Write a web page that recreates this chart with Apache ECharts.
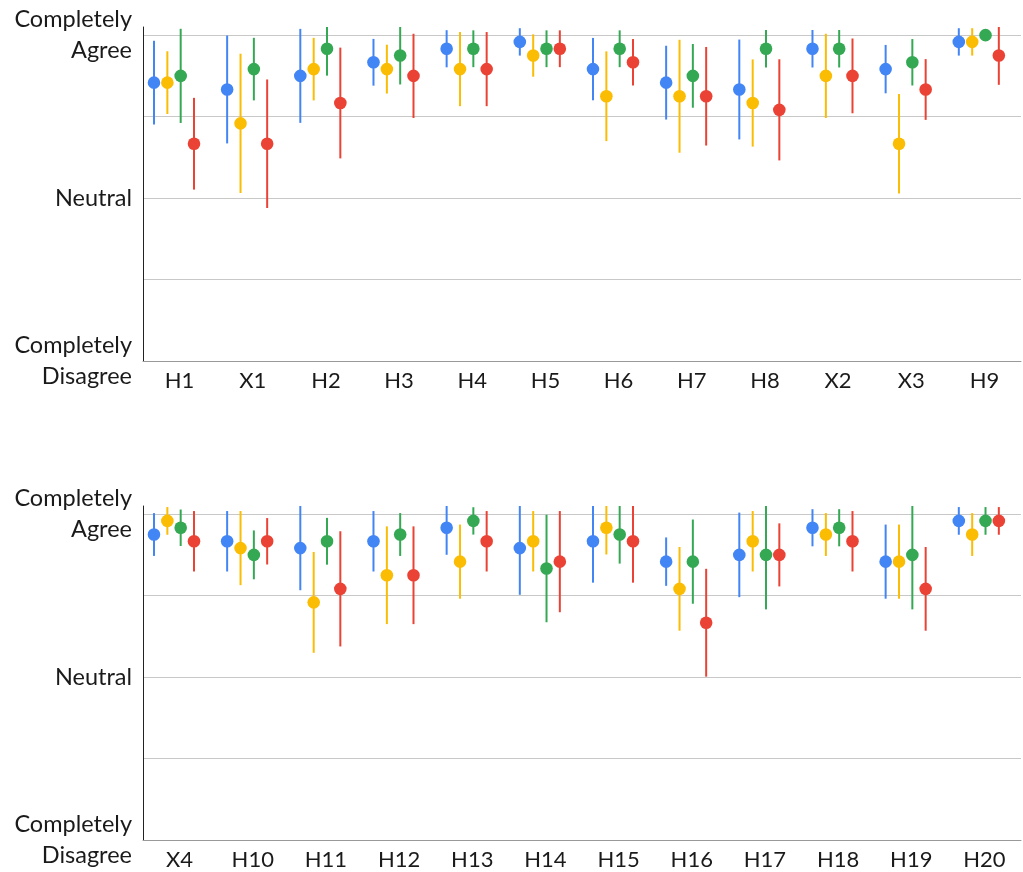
<!DOCTYPE html>
<html>
<head>
<meta charset="utf-8">
<script src="https://cdn.jsdelivr.net/npm/echarts@6/dist/echarts.min.js"></script>
<style>
html,body{margin:0;padding:0;background:#fff;}
#chart{width:1023px;height:872px;}
</style>
</head>
<body>
<div id="chart"></div>
<script>
// ---- Data ----
const categoriesTop = ['H1','X1','H2','H3','H4','H5','H6','H7','H8','X2','X3','H9'];
const categoriesBottom = ['X4','H10','H11','H12','H13','H14','H15','H16','H17','H18','H19','H20'];
const yTickLabels = ['Completely\nDisagree', '', 'Neutral', '', 'Completely\nAgree'];
const seriesNames = ['Blue', 'Yellow', 'Green', 'Red'];

// top panel: means and half-widths of error bars
const blueMeanTop   = [4.417, 4.333, 4.5, 4.667, 4.833, 4.917, 4.583, 4.417, 4.333, 4.833, 4.583, 4.917];
const blueErrTop    = [0.514, 0.662, 0.577, 0.287, 0.228, 0.168, 0.383, 0.453, 0.613, 0.23, 0.297, 0.168];
const yellowMeanTop = [4.417, 3.917, 4.583, 4.583, 4.583, 4.75, 4.25, 4.25, 4.167, 4.5, 3.667, 4.917];
const yellowErrTop  = [0.385, 0.855, 0.384, 0.3, 0.455, 0.26, 0.551, 0.693, 0.535, 0.517, 0.611, 0.168];
const greenMeanTop  = [4.5, 4.583, 4.833, 4.75, 4.833, 4.833, 4.833, 4.5, 4.833, 4.833, 4.667, 5.0];
const greenErrTop   = [0.578, 0.384, 0.33, 0.355, 0.226, 0.226, 0.226, 0.391, 0.23, 0.23, 0.285, 0];
const redMeanTop    = [3.667, 3.667, 4.167, 4.5, 4.583, 4.833, 4.667, 4.25, 4.083, 4.5, 4.333, 4.75];
const redErrTop     = [0.563, 0.789, 0.68, 0.517, 0.455, 0.226, 0.285, 0.605, 0.621, 0.459, 0.373, 0.36];

// bottom panel
const blueMeanBottom   = [4.75, 4.667, 4.583, 4.667, 4.833, 4.583, 4.667, 4.417, 4.5, 4.833, 4.417, 4.917];
const blueErrBottom    = [0.263, 0.371, 0.517, 0.371, 0.332, 0.573, 0.508, 0.297, 0.519, 0.228, 0.455, 0.17];
const yellowMeanBottom = [4.917, 4.583, 3.917, 4.25, 4.417, 4.667, 4.833, 4.083, 4.667, 4.75, 4.417, 4.75];
const yellowErrBottom  = [0.17, 0.455, 0.619, 0.6, 0.455, 0.371, 0.328, 0.514, 0.371, 0.263, 0.455, 0.263];
const greenMeanBottom  = [4.833, 4.5, 4.667, 4.75, 4.917, 4.333, 4.75, 4.417, 4.5, 4.833, 4.5, 4.917];
const greenErrBottom   = [0.224, 0.3, 0.287, 0.263, 0.168, 0.66, 0.357, 0.517, 0.669, 0.228, 0.669, 0.17];
const redMeanBottom    = [4.667, 4.667, 4.083, 4.25, 4.667, 4.417, 4.667, 3.667, 4.5, 4.667, 4.083, 4.917];
const redErrBottom     = [0.371, 0.285, 0.707, 0.6, 0.371, 0.621, 0.508, 0.662, 0.387, 0.371, 0.514, 0.17];

// ---- Styling ----
const colors = ['#4285F4', '#FBBC04', '#34A853', '#EA4335'];
const offsets = [-0.35, -0.167, 0.015, 0.197]; // fraction of category band
const FONT = 'Lato, "Noto Sans", sans-serif';
const TEXT = '#1a1a1a';

function makeData(means, errs) {
  return means.map((m, i) => [i, m, errs[i]]);
}

function makeRender(k) {
  return function (params, api) {
    const cat = api.value(0), mean = api.value(1), err = api.value(2);
    const band = api.size([1, 0])[0];
    const pM = api.coord([cat, mean]);
    const pH = api.coord([cat, mean + err]);
    const pL = api.coord([cat, mean - err]);
    const x = pM[0] + offsets[k] * band;
    return {
      type: 'group',
      children: [
        { type: 'line', shape: { x1: x, y1: pH[1], x2: x, y2: pL[1] },
          style: { stroke: colors[k], lineWidth: 2 } },
        { type: 'circle', shape: { cx: x, cy: pM[1], r: 6.3 },
          style: { fill: colors[k] } }
      ]
    };
  };
}

const topSets = [[blueMeanTop, blueErrTop], [yellowMeanTop, yellowErrTop], [greenMeanTop, greenErrTop], [redMeanTop, redErrTop]];
const bottomSets = [[blueMeanBottom, blueErrBottom], [yellowMeanBottom, yellowErrBottom], [greenMeanBottom, greenErrBottom], [redMeanBottom, redErrBottom]];

const series = [];
[topSets, bottomSets].forEach((sets, g) => {
  sets.forEach((s, k) => {
    series.push({
      type: 'custom',
      name: seriesNames[k],
      xAxisIndex: g,
      yAxisIndex: g,
      clip: true,
      renderItem: makeRender(k),
      data: makeData(s[0], s[1]),
      silent: true
    });
  });
});

function yAxis(g) {
  return {
    type: 'value', gridIndex: g, min: 1, max: 5.1, interval: 1,
    axisLine: { show: true, lineStyle: { color: '#222', width: 1 } },
    axisTick: { show: false },
    splitLine: { show: true, showMaxLine: false, lineStyle: { color: '#c8c8c8', width: 1 } },
    axisLabel: {
      showMaxLabel: false,
      fontFamily: FONT, fontSize: 23.5, lineHeight: 31, color: TEXT, margin: 11,
      formatter: function (v) {
        const r = Math.round(v);
        if (Math.abs(v - r) > 1e-6) return '';
        return yTickLabels[r - 1] || '';
      }
    }
  };
}

function xAxis(g, cats) {
  return {
    type: 'category', gridIndex: g, data: cats,
    axisLine: { show: true, lineStyle: { color: '#999', width: 1 } },
    axisTick: { show: false },
    axisLabel: { fontFamily: FONT, fontSize: 22, color: TEXT, margin: 9, interval: 0 }
  };
}

const chart = echarts.init(document.getElementById('chart'), null, { renderer: 'canvas' });
chart.setOption({
  animation: false,
  backgroundColor: '#ffffff',
  grid: [
    { left: 143, right: 2, top: 27, height: 334 },
    { left: 143, right: 2, top: 506, height: 334 }
  ],
  xAxis: [xAxis(0, categoriesTop), xAxis(1, categoriesBottom)],
  yAxis: [yAxis(0), yAxis(1)],
  series: series
});
</script>
</body>
</html>
